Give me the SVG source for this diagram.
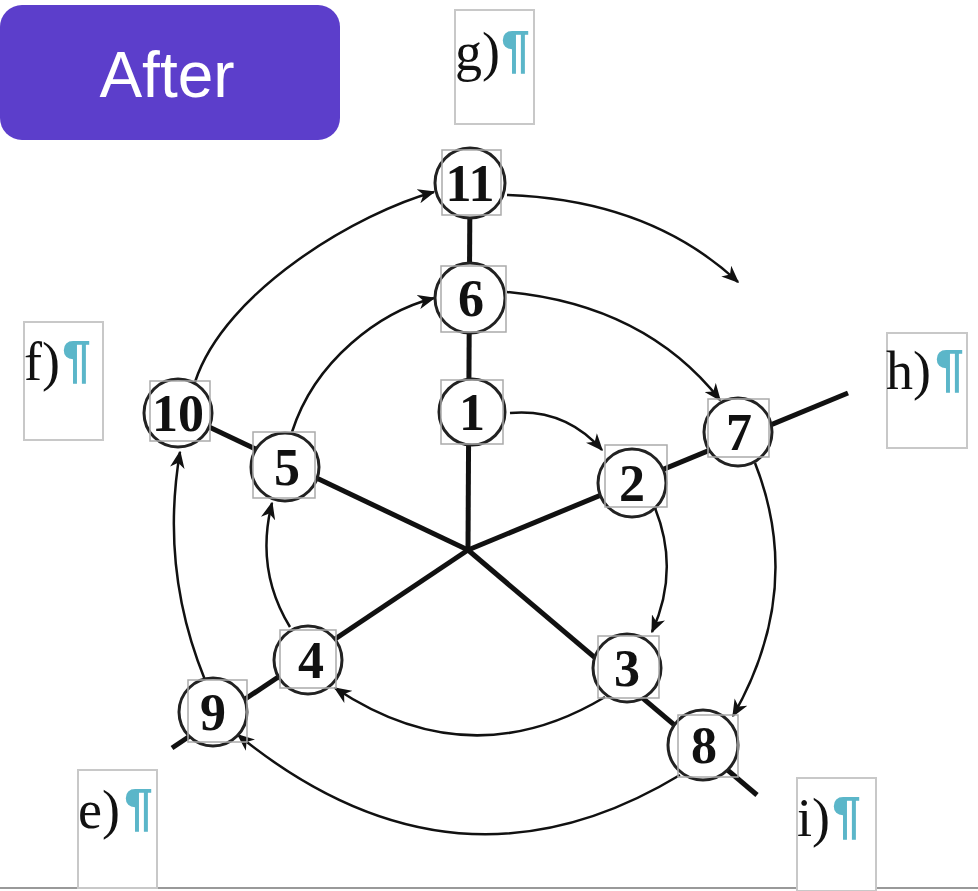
<svg xmlns="http://www.w3.org/2000/svg" width="978" height="891" viewBox="0 0 978 891">
<style>
.spoke{stroke:#111;stroke-width:5;stroke-linecap:butt;fill:none}
.arc{stroke:#111;stroke-width:2.5;fill:none;marker-end:url(#ah)}
.node circle{fill:#fff;stroke:#222;stroke-width:3}
.node rect{fill:none;stroke:#aaa;stroke-width:1.5}
.num{font-family:"Liberation Serif",serif;font-weight:bold;font-size:52px;fill:#111;text-anchor:middle}
.lbl rect{fill:#fff;stroke:#c8c8c8;stroke-width:2}
.lt{font-family:"Liberation Serif",serif;font-size:54px;fill:#111}
.pm{font-family:"Liberation Sans",sans-serif;font-weight:bold;font-size:52px;fill:#5bb6c9}
</style>
<defs>
<marker id="ah" viewBox="0 0 12 10" refX="11" refY="5" markerWidth="7" markerHeight="6" orient="auto" markerUnits="strokeWidth">
<path d="M0,0 L12,5 L0,10 L3.5,5 z" fill="#111"/>
</marker>
</defs>
<rect width="978" height="891" fill="#fff"/>
<line x1="0" y1="888" x2="978" y2="888" stroke="#999" stroke-width="2"/>
<g id="after">
<rect x="0" y="5" width="340" height="135" rx="22" fill="#5c3ecb"/>
<text x="167" y="97" font-family="Liberation Sans, sans-serif" font-size="64" fill="#fff" text-anchor="middle">After</text>
</g>
<g id="label-g" class="lbl"><rect x="455" y="10" width="79" height="114"/><text class="lt" x="455" y="70">g)</text><text class="pm" x="501" y="67">¶</text></g>
<g id="label-f" class="lbl"><rect x="24" y="322" width="79" height="118"/><text class="lt" x="24" y="380">f)</text><text class="pm" x="62" y="377">¶</text></g>
<g id="label-h" class="lbl"><rect x="887" y="333" width="80" height="115"/><text class="lt" x="886" y="389">h)</text><text class="pm" x="935" y="386">¶</text></g>
<g id="label-e" class="lbl"><rect x="78" y="770" width="79" height="118"/><text class="lt" x="78" y="828">e)</text><text class="pm" x="124" y="825">¶</text></g>
<g id="label-i" class="lbl"><rect x="797" y="778" width="79" height="113"/><text class="lt" x="797" y="836">i)</text><text class="pm" x="832" y="833">¶</text></g>
<g id="connectors">
<line class="spoke" x1="468" y1="550" x2="470" y2="183"/>
<line class="spoke" x1="468" y1="550" x2="848" y2="393"/>
<line class="spoke" x1="468" y1="550" x2="757" y2="795"/>
<line class="spoke" x1="468" y1="550" x2="172" y2="748"/>
<line class="spoke" x1="468" y1="550" x2="148" y2="398"/>
<path class="arc" d="M510,413 Q565,408 602,450"/>
<path class="arc" d="M655,508 Q680,570 652,632"/>
<path class="arc" d="M605,697 Q470,778 335,688"/>
<path class="arc" d="M290,627 Q255,570 272,503"/>
<path class="arc" d="M292,432 C315,360 380,312 434,298"/>
<path class="arc" d="M507,292 Q645,305 720,400"/>
<path class="arc" d="M755,463 Q805,590 733,716"/>
<path class="arc" d="M680,775 Q455,911 238,735"/>
<path class="arc" d="M205,680 Q160,570 180,452"/>
<path class="arc" d="M195,382 C225,290 360,212 434,192"/>
<path class="arc" d="M507,195 Q650,200 738,282"/>
</g>
<g id="n11" class="node"><circle cx="470" cy="183" r="35"/><rect x="442" y="150" width="59" height="65"/><text class="num" x="470" y="201">11</text></g>
<g id="n6" class="node"><circle cx="470" cy="298" r="35"/><rect x="441" y="266" width="65" height="66"/><text class="num" x="471" y="316">6</text></g>
<g id="n1" class="node"><circle cx="472" cy="412" r="33"/><rect x="441" y="380" width="62" height="64"/><text class="num" x="472" y="430">1</text></g>
<g id="n2" class="node"><circle cx="632" cy="483" r="34"/><rect x="605" y="445" width="62" height="62"/><text class="num" x="632" y="501">2</text></g>
<g id="n7" class="node"><circle cx="738" cy="432" r="34"/><rect x="708" y="399" width="61" height="58"/><text class="num" x="739" y="450">7</text></g>
<g id="n3" class="node"><circle cx="627" cy="668" r="34"/><rect x="598" y="636" width="61" height="62"/><text class="num" x="627" y="686">3</text></g>
<g id="n8" class="node"><circle cx="703" cy="745" r="35"/><rect x="678" y="715" width="60" height="62"/><text class="num" x="704" y="763">8</text></g>
<g id="n4" class="node"><circle cx="308" cy="660" r="34"/><rect x="280" y="630" width="56" height="58"/><text class="num" x="311" y="678">4</text></g>
<g id="n9" class="node"><circle cx="213" cy="712" r="34"/><rect x="188" y="680" width="59" height="62"/><text class="num" x="213" y="730">9</text></g>
<g id="n5" class="node"><circle cx="285" cy="467" r="34"/><rect x="253" y="432" width="62" height="66"/><text class="num" x="287" y="485">5</text></g>
<g id="n10" class="node"><circle cx="178" cy="413" r="34"/><rect x="150" y="381" width="60" height="60"/><text class="num" x="178" y="431">10</text></g>
</svg>
